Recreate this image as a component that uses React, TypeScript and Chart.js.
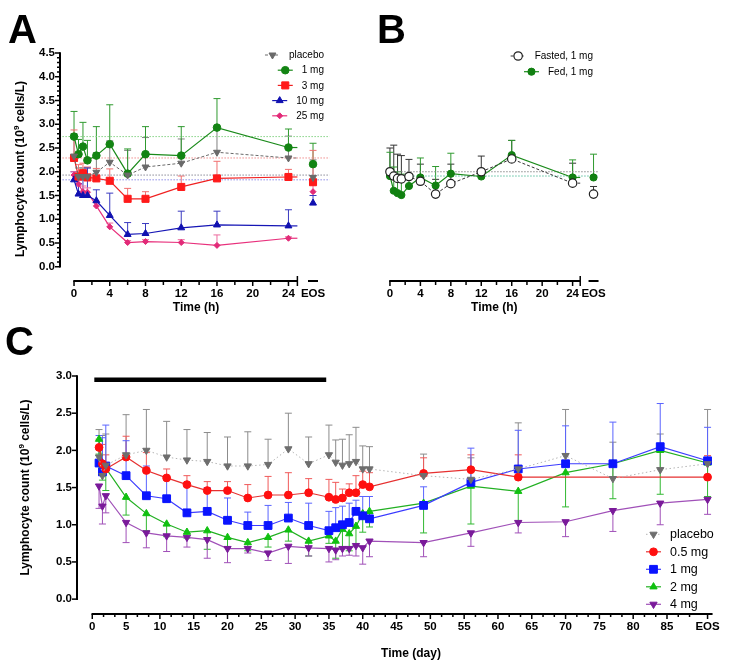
import React, { useEffect, useRef } from 'react';
import { Chart, registerables } from 'chart.js';
import { drawPoint } from 'chart.js/helpers';

Chart.register(...registerables);

const W = 729;
const H = 666;
const FONT = "'Liberation Sans', Arial, Helvetica, sans-serif";

// ===== Panel A : single ascending dose (hours) =====
const A_HOURS = [0, 0.5, 1, 1.5, 2.5, 4, 6, 8, 12, 16, 24];
const A_EOS_POS = 26.75;
const A_AXIS_END = 25;
const A_X_TICKS = [0, 4, 8, 12, 16, 20, 24];
const A_X_MINOR = [2, 6, 10, 14, 18, 22];
const A_Y_TICKS = [0, 0.5, 1, 1.5, 2, 2.5, 3, 3.5, 4, 4.5];

const A_PLACEBO = [2.33, 1.9, 1.9, 1.9, 1.99, 2.2, 1.93, 2.1, 2.18, 2.41, 2.29, 1.88];
const A_PLACEBO_UP = [2.8, 2.08, 2.08, 2.08, 2.4, 2.65, 2.45, 2.72, 2.69, 2.95, 2.75, 2.25];
const A_1MG = [2.74, 2.37, 2.53, 2.24, 2.34, 2.58, 1.96, 2.37, 2.34, 2.93, 2.51, 2.16];
const A_1MG_UP = [3.27, 2.68, 3.04, 2.66, 2.95, 3.41, 2.48, 2.95, 2.95, 3.54, 2.9, 2.6];
const A_3MG = [2.29, 1.9, 1.97, 1.88, 1.86, 1.81, 1.43, 1.43, 1.68, 1.86, 1.89, 1.78];
const A_3MG_UP = [2.88, 2.15, 2.18, 2.1, 2.07, 2.06, 1.65, 1.58, 1.91, 2.22, 2.05, 2.45];
const A_10MG = [1.83, 1.53, 1.5, 1.5, 1.39, 1.08, 0.68, 0.7, 0.82, 0.88, 0.86, 1.34];
const A_10MG_UP = [2.0, 1.75, 1.9, 2.08, 1.62, 1.55, 0.93, 0.91, 1.17, 1.17, 1.2, 1.5];
const A_25MG = [1.93, 1.74, 1.58, 1.57, 1.28, 0.84, 0.51, 0.53, 0.51, 0.45, 0.6, 1.58];
const A_25MG_UP = [2.0, 1.82, 1.7, 1.66, 1.38, 0.92, 0.55, 0.57, 0.57, 0.67, 0.63, 1.72];

// ===== Panel B : food effect (hours) =====
const B_FASTED = [2.0, 1.91, 1.86, 1.85, 1.9, 1.8, 1.53, 1.75, 2.0, 2.27, 1.76, 1.53];
const B_FASTED_UP = [2.5, 2.56, 2.37, 2.34, 2.26, 2.16, 1.84, 2.16, 2.33, 2.66, 2.18, 1.69];
const B_FED = [1.91, 1.6, 1.55, 1.51, 1.7, 1.88, 1.71, 1.96, 1.9, 2.35, 1.88, 1.88];
const B_FED_UP = [2.41, 2.1, 2.0, 1.95, 1.85, 2.29, 2.11, 2.39, 1.95, 2.66, 2.25, 2.37];

// ===== Panel C : multiple dose (days) =====
const C_DAYS = [1, 1.5, 2, 5, 8, 11, 14, 17, 20, 23, 26, 29, 32, 35, 36, 37, 38, 39, 40, 41, 49, 56, 63, 70, 77, 84];
const C_EOS_POS = 91;
const C_X_TICKS = [0, 5, 10, 15, 20, 25, 30, 35, 40, 45, 50, 55, 60, 65, 70, 75, 80, 85];
const C_Y_TICKS = [0, 0.5, 1, 1.5, 2, 2.5, 3];
const C_BAR_DAYS = [0.3, 34.6];
const C_BAR_LEVEL = 2.95;

const C_PLACEBO = [1.91, 1.66, 1.8, 1.94, 2.0, 1.91, 1.87, 1.85, 1.79, 1.79, 1.81, 2.02, 1.82, 1.94, 1.84, 1.8, 1.82, 1.85, 1.75, 1.75, 1.66, 1.61, 1.75, 1.93, 1.62, 1.74, 1.82];
const C_PLACEBO_UP = [2.28, 2.2, 2.22, 2.48, 2.55, 2.39, 2.28, 2.24, 2.18, 2.25, 2.15, 2.5, 2.18, 2.34, 2.14, 2.15, 2.21, 2.31, 2.06, 2.05, 1.95, 1.9, 2.37, 2.55, 2.11, 2.22, 2.55];
const C_05MG = [2.04, 1.82, 1.75, 1.91, 1.73, 1.63, 1.54, 1.46, 1.46, 1.36, 1.4, 1.4, 1.43, 1.37, 1.34, 1.36, 1.43, 1.43, 1.54, 1.51, 1.69, 1.74, 1.64, null, null, null, 1.64];
const C_05MG_UP = [2.15, 2.08, 1.94, 2.19, 1.97, 1.75, 1.66, 1.58, 1.58, 1.54, 1.65, 1.7, 1.62, 1.61, 1.57, 1.48, 1.55, 1.66, 1.72, 1.7, 1.9, 1.94, 1.94, null, null, null, 1.93];
const C_1MG = [1.83, 1.71, 1.79, 1.66, 1.39, 1.35, 1.16, 1.18, 1.06, 0.99, 0.99, 1.09, 0.99, 0.92, 0.96, 1.0, 1.03, 1.18, 1.12, 1.08, 1.26, 1.57, 1.75, 1.82, 1.82, 2.05, 1.86];
const C_1MG_UP = [2.2, 2.17, 2.34, 2.13, 1.79, 1.63, 1.56, 1.5, 1.36, 1.17, 1.26, 1.3, 1.29, 1.18, 1.23, 1.25, 1.29, 1.33, 1.38, 1.38, 1.51, 2.03, 2.27, 2.33, 2.38, 2.63, 2.31];
const C_2MG = [2.15, 1.8, 1.76, 1.37, 1.15, 1.01, 0.9, 0.92, 0.83, 0.76, 0.83, 0.93, 0.78, 0.85, 0.78, 0.94, 0.88, 0.98, 1.15, 1.18, 1.29, 1.52, 1.45, 1.7, 1.82, 2.0, 1.83];
const C_2MG_DOWN = [1.95, 1.6, 1.46, 1.13, 0.92, 0.84, 0.82, 0.67, 0.7, 0.65, 0.7, 0.78, 0.58, 0.75, 0.55, 0.7, 0.65, 0.72, 0.9, 0.97, 0.89, 1.01, 1.05, 1.24, 1.35, 1.41, 1.38];
const C_4MG = [1.52, 1.25, 1.39, 1.03, 0.89, 0.85, 0.83, 0.8, 0.68, 0.68, 0.62, 0.71, 0.69, 0.68, 0.66, 0.68, 0.68, 0.72, 0.69, 0.78, 0.76, 0.89, 1.03, 1.04, 1.19, 1.29, 1.34];
const C_4MG_DOWN = [1.22, 1.01, 1.16, 0.76, 0.69, 0.64, 0.7, 0.55, 0.49, 0.62, 0.52, 0.48, 0.58, 0.5, 0.53, 0.58, 0.59, 0.58, 0.47, 0.57, 0.57, 0.71, 0.89, 0.84, 0.91, 1.0, 1.14];

// ---------- helpers ----------
const pts = (xs: number[], ys: (number | null)[]) => xs.map((x, i) => ({ x, y: ys[i] }));

function seg(ctx: CanvasRenderingContext2D, x0: number, y0: number, x1: number, y1: number) {
  ctx.beginPath();
  ctx.moveTo(x0, y0);
  ctx.lineTo(x1, y1);
  ctx.stroke();
}

function marker(ctx: CanvasRenderingContext2D, ds: any, x: number, y: number) {
  ctx.save();
  ctx.setLineDash([]);
  ctx.fillStyle = ds.pointBackgroundColor;
  ctx.strokeStyle = ds.pointBorderColor;
  ctx.lineWidth = ds.pointBorderWidth;
  drawPoint(ctx, { pointStyle: ds.pointStyle, rotation: ds.pointRotation || 0, radius: ds.pointRadius, borderWidth: ds.pointBorderWidth } as any, x, y);
  ctx.restore();
}

const errorBars = {
  id: 'errorBars',
  beforeDatasetsDraw(chart: any) {
    const { ctx } = chart;
    const xs = chart.scales.x;
    const ys = chart.scales.y;
    chart.data.datasets.forEach((ds: any, di: number) => {
      const meta = chart.getDatasetMeta(di);
      ctx.save();
      // stub of the line to the end of the axis
      if (ds.stubIndex != null) {
        const p = meta.data[ds.stubIndex];
        ctx.strokeStyle = ds.borderColor;
        ctx.lineWidth = ds.borderWidth;
        ctx.setLineDash(ds.borderDash || []);
        seg(ctx, p.x, p.y, xs.getPixelForValue(ds.stubTo), p.y);
      }
      ctx.setLineDash([]);
      ctx.strokeStyle = ds.errColor || ds.borderColor;
      ctx.lineWidth = 1;
      const cap = 3.5;
      ['errUp', 'errDown'].forEach((key) => {
        const arr = ds[key];
        if (!arr) return;
        arr.forEach((v: number | null, i: number) => {
          const p = meta.data[i];
          const val = ds.data[i] ? ds.data[i].y : null;
          if (v == null || val == null || !p) return;
          const y0 = ys.getPixelForValue(val);
          const y1 = ys.getPixelForValue(v);
          seg(ctx, p.x, y0, p.x, y1);
          seg(ctx, p.x - cap, y1, p.x + cap, y1);
        });
      });
      ctx.restore();
    });
  },
};

function drawYTitle(ctx: CanvasRenderingContext2D, cx: number, cy: number) {
  const t1 = 'Lymphocyte count (10';
  const sup = '9';
  const t2 = ' cells/L)';
  ctx.save();
  ctx.translate(cx, cy);
  ctx.rotate(-Math.PI / 2);
  ctx.fillStyle = '#000';
  ctx.textBaseline = 'alphabetic';
  ctx.textAlign = 'left';
  ctx.font = `bold 12px ${FONT}`;
  const w1 = ctx.measureText(t1).width;
  const w2 = ctx.measureText(t2).width;
  ctx.font = `bold 8px ${FONT}`;
  const ws = ctx.measureText(sup).width;
  let x = -(w1 + ws + w2) / 2;
  ctx.font = `bold 12px ${FONT}`;
  ctx.fillText(t1, x, 4.5);
  x += w1;
  ctx.font = `bold 8px ${FONT}`;
  ctx.fillText(sup, x, -0.5);
  x += ws;
  ctx.font = `bold 12px ${FONT}`;
  ctx.fillText(t2, x, 4.5);
  ctx.restore();
}

function drawLegend(ctx: CanvasRenderingContext2D, dss: any[], o: { x: number; y: number; row: number; size: number; align: 'left' | 'right' }) {
  ctx.save();
  ctx.font = `${o.size}px ${FONT}`;
  ctx.textBaseline = 'middle';
  ctx.fillStyle = '#000';
  dss.forEach((ds, i) => {
    const y = o.y + i * o.row;
    const w = ctx.measureText(ds.label).width;
    const ts = o.align === 'right' ? o.x - w : o.x;
    const s0 = ts - 24;
    const s1 = ts - 9;
    ctx.save();
    ctx.strokeStyle = ds.borderColor;
    ctx.lineWidth = ds.borderWidth;
    ctx.setLineDash(ds.borderDash || []);
    seg(ctx, s0, y, s1, y);
    ctx.restore();
    marker(ctx, ds, (s0 + s1) / 2, y);
    ctx.fillStyle = '#000';
    ctx.textAlign = 'left';
    ctx.fillText(ds.label, ts, y + 0.5);
  });
  ctx.restore();
}

function drawBaselines(chart: any, lines: { v: number; color: string }[], from: number, to: number) {
  const { ctx } = chart;
  const xs = chart.scales.x;
  const ys = chart.scales.y;
  ctx.save();
  ctx.lineWidth = 1;
  ctx.setLineDash([1.5, 1.5]);
  lines.forEach((l) => {
    ctx.strokeStyle = l.color;
    const y = ys.getPixelForValue(l.v);
    seg(ctx, xs.getPixelForValue(from), y, xs.getPixelForValue(to), y);
  });
  ctx.restore();
}

function drawXAxis(chart: any, major: number[], minor: number[], end: number, endMark: boolean, eos: number | null, majorLen: number, minorLen: number) {
  const { ctx, chartArea: ca } = chart;
  const xs = chart.scales.x;
  const y0 = ca.bottom;
  ctx.save();
  ctx.strokeStyle = '#000';
  ctx.lineWidth = 2;
  const xL = xs.getPixelForValue(0);
  const xR = xs.getPixelForValue(end);
  seg(ctx, xL - 0.75, y0, xR, y0);
  ctx.lineWidth = 1.5;
  major.forEach((v) => {
    const x = xs.getPixelForValue(v);
    seg(ctx, x, y0, x, y0 + majorLen);
  });
  minor.forEach((v) => {
    const x = xs.getPixelForValue(v);
    seg(ctx, x, y0, x, y0 + minorLen);
  });
  if (endMark) seg(ctx, xR, y0 - 5, xR, y0 + 5);
  if (eos != null) {
    const xe = xs.getPixelForValue(eos);
    ctx.lineWidth = 2;
    seg(ctx, xe - 5, y0, xe + 5, y0);
    if (!endMark) {
      ctx.lineWidth = 1.5;
      seg(ctx, xe, y0, xe, y0 + majorLen);
    }
  }
  ctx.restore();
}

function drawYAxis(chart: any, major: number[], minorStep: number, top: number) {
  const { ctx, chartArea: ca } = chart;
  const ys = chart.scales.y;
  const x0 = ca.left;
  ctx.save();
  ctx.strokeStyle = '#000';
  ctx.lineWidth = 2;
  seg(ctx, x0, ys.getPixelForValue(top) - 0.75, x0, ys.getPixelForValue(0) + 0.75);
  ctx.lineWidth = 1.5;
  major.forEach((v) => {
    const y = ys.getPixelForValue(v);
    seg(ctx, x0 - 5, y, x0, y);
  });
  if (minorStep > 0) {
    for (let k = 1; k * minorStep < top; k++) {
      const v = k * minorStep;
      if (Math.abs(v / 0.5 - Math.round(v / 0.5)) < 1e-6) continue;
      const y = ys.getPixelForValue(v);
      seg(ctx, x0 - 3, y, x0, y);
    }
  }
  ctx.restore();
}

function drawText(ctx: CanvasRenderingContext2D, text: string, x: number, y: number, size: number, align: CanvasTextAlign = 'center', baseline: CanvasTextBaseline = 'middle') {
  ctx.save();
  ctx.font = `bold ${size}px ${FONT}`;
  ctx.fillStyle = '#000';
  ctx.textAlign = align;
  ctx.textBaseline = baseline;
  ctx.fillText(text, x, y);
  ctx.restore();
}

const tickFont = { family: FONT, size: 11.5, weight: 'bold' as const };

function zeroPad(s: any) {
  s.paddingLeft = 0;
  s.paddingRight = 0;
  s.paddingTop = 0;
  s.paddingBottom = 0;
}

function xScale(min: number, max: number, ticks: number[], eos: number) {
  return {
    type: 'linear',
    min,
    max,
    grid: { display: false, drawTicks: false },
    border: { display: false },
    afterBuildTicks: (s: any) => {
      s.ticks = ticks.concat([eos]).map((v) => ({ value: v }));
    },
    afterFit: (s: any) => {
      s.height = 30;
      zeroPad(s);
    },
    ticks: {
      autoSkip: false,
      maxRotation: 0,
      minRotation: 0,
      padding: 6,
      color: '#000',
      font: tickFont,
      callback: (v: any) => (v === eos ? 'EOS' : String(v)),
    },
  };
}

function yScale(min: number, max: number, ticks: number[], display: boolean) {
  return {
    type: 'linear',
    min,
    max,
    display,
    grid: { display: false, drawTicks: false },
    border: { display: false },
    afterBuildTicks: (s: any) => {
      s.ticks = ticks.map((v) => ({ value: v }));
    },
    afterFit: (s: any) => {
      s.width = 40;
      zeroPad(s);
    },
    ticks: {
      autoSkip: false,
      padding: 5,
      color: '#000',
      font: tickFont,
      callback: (v: any) => Number(v).toFixed(1),
    },
  };
}

function lineDs(label: string, xs: number[], ys: (number | null)[], o: any) {
  const last = xs.length - 1;
  return {
    label,
    data: pts(xs, ys),
    borderWidth: 1.2,
    pointBorderWidth: 1,
    tension: 0,
    fill: false,
    ...o,
    segment: o.hideLast
      ? { borderColor: (c: any) => (c.p1DataIndex === last ? 'rgba(0,0,0,0)' : undefined) }
      : o.segment,
  };
}

function baseOptions(area: { left: number; top: number; right: number; bottom: number }, yShown: boolean, scales: any) {
  return {
    responsive: false,
    animation: false,
    events: [],
    layout: {
      padding: {
        left: area.left - (yShown ? 40 : 0),
        top: area.top,
        right: W - area.right,
        bottom: H - area.bottom - 30,
      },
    },
    plugins: { legend: { display: false }, tooltip: { enabled: false } },
    scales,
  };
}

function configA(): any {
  const xsA = A_HOURS.concat([A_EOS_POS]);
  const stub = { stubIndex: A_HOURS.length - 1, stubTo: A_AXIS_END, hideLast: true };
  const datasets = [
    lineDs('placebo', xsA, A_PLACEBO, { ...stub, borderColor: '#6a6a6a', borderDash: [3, 2], borderWidth: 1, pointStyle: 'triangle', pointRotation: 180, pointRadius: 4, pointBackgroundColor: '#6a6a6a', pointBorderColor: '#6a6a6a', errUp: A_PLACEBO_UP, errColor: '#808080' }),
    lineDs('1 mg', xsA, A_1MG, { ...stub, borderColor: '#1a8a1a', pointStyle: 'circle', pointRadius: 3.8, pointBackgroundColor: '#138413', pointBorderColor: '#138413', errUp: A_1MG_UP, errColor: '#2f9a2f' }),
    lineDs('3 mg', xsA, A_3MG, { ...stub, borderColor: '#f02020', pointStyle: 'rect', pointRadius: 5, pointBackgroundColor: '#ff1a1a', pointBorderColor: '#ff1a1a', errUp: A_3MG_UP, errColor: '#f07070' }),
    lineDs('10 mg', xsA, A_10MG, { ...stub, borderColor: '#1515b5', pointStyle: 'triangle', pointRadius: 4, pointBackgroundColor: '#1010b0', pointBorderColor: '#1010b0', errUp: A_10MG_UP, errColor: '#3a3ac0' }),
    lineDs('25 mg', xsA, A_25MG, { ...stub, borderColor: '#e8307c', pointStyle: 'rectRot', pointRadius: 3, pointBackgroundColor: '#e22a78', pointBorderColor: '#e22a78', errUp: A_25MG_UP, errColor: '#ec6a9e' }),
  ];
  const area = { left: 60, top: 53, right: 330, bottom: 281 };
  const decor = {
    id: 'decorA',
    beforeDatasetsDraw(chart: any) {
      drawBaselines(chart, [
        { v: A_1MG[0], color: '#84d284' },
        { v: A_3MG[0], color: '#f08c8c' },
        { v: A_25MG[0], color: '#8a8a98' },
        { v: A_10MG[0], color: '#8c8ce6' },
      ], -1.3, 28.6);
    },
    afterDraw(chart: any) {
      const { ctx } = chart;
      drawYAxis(chart, A_Y_TICKS, 0.1, 4.5);
      drawXAxis(chart, A_X_TICKS, A_X_MINOR, A_AXIS_END, true, A_EOS_POS, 5, 4);
      const xs = chart.scales.x;
      drawText(ctx, 'Time (h)', (xs.getPixelForValue(0) + xs.getPixelForValue(A_EOS_POS) + 5) / 2, chart.chartArea.bottom + 26.5, 12);
      drawYTitle(ctx, 19, 169);
      drawText(ctx, 'A', 8, 43, 40, 'left', 'alphabetic');
      drawLegend(ctx, chart.data.datasets, { x: 324, y: 55, row: 15.2, size: 10, align: 'right' });
    },
  };
  return {
    type: 'line',
    data: { datasets },
    options: baseOptions(area, true, {
      x: xScale(-1.57, 28.65, A_X_TICKS, A_EOS_POS),
      y: yScale(-0.3, 4.5, A_Y_TICKS, true),
    }),
    plugins: [errorBars, decor],
  };
}

function configB(): any {
  const xsB = A_HOURS.concat([A_EOS_POS]);
  const stub = { stubIndex: A_HOURS.length - 1, stubTo: A_AXIS_END, hideLast: true };
  const datasets = [
    lineDs('Fasted, 1 mg', xsB, B_FASTED, { ...stub, borderColor: '#333333', borderDash: [3, 2], borderWidth: 1, pointStyle: 'circle', pointRadius: 4.2, pointBackgroundColor: '#ffffff', pointBorderColor: '#222222', pointBorderWidth: 1.2, errUp: B_FASTED_UP, errColor: '#333333' }),
    lineDs('Fed, 1 mg', xsB, B_FED, { ...stub, borderColor: '#1a8a1a', pointStyle: 'circle', pointRadius: 3.6, pointBackgroundColor: '#118011', pointBorderColor: '#118011', errUp: B_FED_UP, errColor: '#2f9a2f' }),
  ];
  const area = { left: 338, top: 53, right: 608, bottom: 281 };
  const decor = {
    id: 'decorB',
    beforeDatasetsDraw(chart: any) {
      drawBaselines(chart, [
        { v: B_FASTED[0], color: '#8a8a8a' },
        { v: B_FED[0], color: '#5cc0a0' },
      ], -0.1, 27.4);
    },
    afterDraw(chart: any) {
      const { ctx } = chart;
      drawXAxis(chart, A_X_TICKS, A_X_MINOR, A_AXIS_END, true, A_EOS_POS, 5, 4);
      const xs = chart.scales.x;
      drawText(ctx, 'Time (h)', (xs.getPixelForValue(0) + xs.getPixelForValue(A_EOS_POS) + 5) / 2, chart.chartArea.bottom + 26.5, 12);
      drawText(ctx, 'B', 377, 43, 40, 'left', 'alphabetic');
      drawLegend(ctx, chart.data.datasets, { x: 593, y: 56, row: 15.7, size: 10, align: 'right' });
    },
  };
  return {
    type: 'line',
    data: { datasets },
    options: baseOptions(area, false, {
      x: xScale(-1.57, 28.65, A_X_TICKS, A_EOS_POS),
      y: yScale(-0.3, 4.5, A_Y_TICKS, false),
    }),
    plugins: [errorBars, decor],
  };
}

function configC(): any {
  const xsC = C_DAYS.concat([C_EOS_POS]);
  const datasets = [
    lineDs('placebo', xsC, C_PLACEBO, { borderColor: '#b4b4b4', borderDash: [1.5, 2.5], borderWidth: 1, pointStyle: 'triangle', pointRotation: 180, pointRadius: 4.2, pointBackgroundColor: '#6e6e6e', pointBorderColor: '#6e6e6e', errUp: C_PLACEBO_UP, errColor: '#8c8c8c' }),
    lineDs('0.5 mg', xsC, C_05MG, {
      borderColor: '#e63030', pointStyle: 'circle', pointRadius: 3.9, pointBackgroundColor: '#ff1010', pointBorderColor: '#ff1010', errUp: C_05MG_UP, errColor: '#f05a5a', spanGaps: true,
      segment: {
        borderColor: (c: any) => (c.p1DataIndex - c.p0DataIndex > 1 ? '#f08a8a' : undefined),
        borderWidth: (c: any) => (c.p1DataIndex - c.p0DataIndex > 1 ? 3 : undefined),
      },
    }),
    lineDs('1 mg', xsC, C_1MG, { borderColor: '#3c3cff', pointStyle: 'rect', pointRadius: 5.5, pointBackgroundColor: '#0a14ff', pointBorderColor: '#0a14ff', errUp: C_1MG_UP, errColor: '#5a64ff' }),
    lineDs('2 mg', xsC, C_2MG, { borderColor: '#22b022', pointStyle: 'triangle', pointRadius: 4.2, pointBackgroundColor: '#10c010', pointBorderColor: '#10c010', errDown: C_2MG_DOWN, errColor: '#30b830' }),
    lineDs('4 mg', xsC, C_4MG, { borderColor: '#a050b8', pointStyle: 'triangle', pointRotation: 180, pointRadius: 4.2, pointBackgroundColor: '#7a1a9a', pointBorderColor: '#7a1a9a', errDown: C_4MG_DOWN, errColor: '#a050b8' }),
  ];
  const bar = {
    label: 'dosing',
    data: pts(C_BAR_DAYS, [C_BAR_LEVEL, C_BAR_LEVEL]),
    borderColor: '#000',
    borderWidth: 4.5,
    pointRadius: 0,
    tension: 0,
  };
  const area = { left: 77, top: 376, right: 715, bottom: 614 };
  const minor: number[] = [];
  for (let k = 0; k < 54; k++) {
    if (k % 3 !== 0) minor.push((k * 5) / 3);
  }
  const decor = {
    id: 'decorC',
    afterDraw(chart: any) {
      const { ctx } = chart;
      drawYAxis(chart, C_Y_TICKS, 0, 3);
      drawXAxis(chart, C_X_TICKS, minor, C_EOS_POS, false, C_EOS_POS, 5, 3);
      drawText(ctx, 'Time (day)', 411, chart.chartArea.bottom + 40, 12);
      drawYTitle(ctx, 24, 487.5);
      drawText(ctx, 'C', 5, 355, 40, 'left', 'alphabetic');
      drawLegend(ctx, chart.data.datasets.slice(0, 5), { x: 670, y: 534.3, row: 17.5, size: 12.5, align: 'left' });
    },
  };
  return {
    type: 'line',
    data: { datasets: datasets.concat([bar as any]) },
    options: baseOptions(area, true, {
      x: xScale(-2.26, 92.1, C_X_TICKS, C_EOS_POS),
      y: yScale(-0.2, 3.0, C_Y_TICKS, true),
    }),
    plugins: [errorBars, decor],
  };
}

export default function App() {
  const refA = useRef<HTMLCanvasElement>(null);
  const refB = useRef<HTMLCanvasElement>(null);
  const refC = useRef<HTMLCanvasElement>(null);
  useEffect(() => {
    const charts = [
      new Chart(refA.current as HTMLCanvasElement, configA()),
      new Chart(refB.current as HTMLCanvasElement, configB()),
      new Chart(refC.current as HTMLCanvasElement, configC()),
    ];
    return () => charts.forEach((c) => c.destroy());
  }, []);
  const st: React.CSSProperties = { position: 'absolute', left: 0, top: 0, width: W, height: H };
  return (
    <div style={{ position: 'absolute', left: 0, top: 0, width: W, height: H, background: '#fff', overflow: 'hidden' }}>
      <canvas ref={refA} width={W} height={H} style={st} />
      <canvas ref={refB} width={W} height={H} style={st} />
      <canvas ref={refC} width={W} height={H} style={st} />
    </div>
  );
}
